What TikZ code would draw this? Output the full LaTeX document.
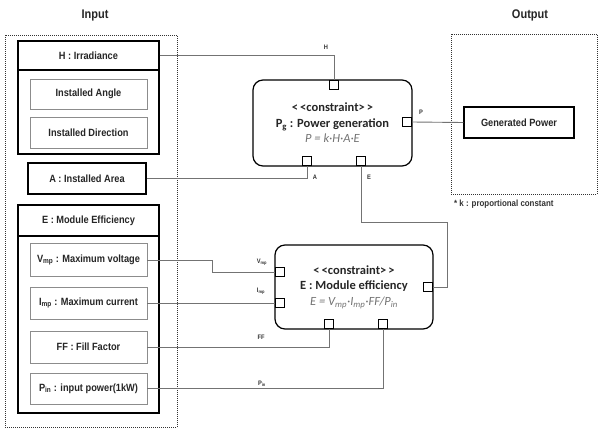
\documentclass[tikz,border=0pt]{standalone}
\usepackage{fontspec}
\setmainfont{Liberation Sans}
\newfontfamily\nbfont[FakeStretch=0.88]{Liberation Sans Bold}
\newfontfamily\calfont{Carlito Bold}
\newfontfamily\calitfont{Carlito Italic}
\begin{document}
\begin{tikzpicture}[x=1pt,y=-1pt,
  grp/.style={draw=black, line width=1.3pt, inner sep=0pt},
  hdr/.style={draw=black, line width=1.3pt, inner sep=0pt, text=black!85, font=\nbfont\fontsize{10.5}{12}\selectfont},
  inbox/.style={draw=black!45, line width=0.8pt, inner sep=0pt, text=black!85, font=\nbfont\fontsize{10.5}{12}\selectfont},
  cbox/.style={draw=black, rounded corners=10pt, line width=1.2pt, align=center, inner sep=0pt, text=black!85, font=\calfont\fontsize{12.5}{15.5}\selectfont},
  port/.style={draw=black, fill=white, line width=1.2pt, minimum size=9pt, inner sep=0pt},
  conn/.style={draw=black!55, line width=0.9pt},
  plab/.style={font=\nbfont\fontsize{6.5}{7}\selectfont, text=black!80, inner sep=0pt},
  title/.style={font=\nbfont\fontsize{12.5}{15}\selectfont, text=black!85, inner sep=0pt},
  dotbox/.style={draw=black!80, line width=1pt, dash pattern=on 1pt off 1pt}]
\useasboundingbox (0,0) rectangle (601,434);
\fill[white] (0,0) rectangle (601,434);

% titles
\node[title] (tin) at (95,15) {Input};
\node[title] (tout) at (530,15) {Output};

% dotted frames
\node[dotbox, minimum width=172pt, minimum height=392pt, inner sep=0pt] (inframe) at (91,231) {};
\node[dotbox, minimum width=146pt, minimum height=160pt, inner sep=0pt] (outframe) at (524,114) {};

% H group
\node[grp, minimum width=141pt, minimum height=113pt] (hgrp) at (88.5,97.5) {};
\node[hdr, minimum width=141pt, minimum height=29pt] (hhead) at (88.5,55.5) {H : Irradiance};
\node[inbox, minimum width=117pt, minimum height=30pt] (ang) at (88.5,94) {Installed Angle};
\node[inbox, minimum width=117pt, minimum height=31pt] (dir) at (88.5,132.5) {Installed Direction};

% A
\node[hdr, minimum width=118pt, minimum height=31pt] (area) at (87,178.5) {A : Installed Area};

% E group
\node[grp, minimum width=141pt, minimum height=208pt] (egrp) at (88.5,309) {};
\node[hdr, minimum width=141pt, minimum height=31pt] (ehead) at (88.5,220.5) {E : Module Efficiency};
\node[inbox, minimum width=117pt, minimum height=33pt] (vmp) at (88.5,260) {V\textsubscript{mp} : Maximum voltage};
\node[inbox, minimum width=117pt, minimum height=32pt] (imp) at (88.5,303) {I\textsubscript{mp} : Maximum current};
\node[inbox, minimum width=117pt, minimum height=32pt] (ff) at (88.5,347) {FF : Fill Factor};
\node[inbox, minimum width=117pt, minimum height=31pt] (pin) at (88.5,388.5) {P\textsubscript{in} : input power(1kW)};

% constraint blocks
\node[cbox, minimum width=159pt, minimum height=86pt] (pbox) at (332.5,123)
  {<\,<constraint>\,>\\P\textsubscript{g} : Power generation\\{\color{black!55}\calitfont P = k·H·A·E}};
\node[cbox, minimum width=158pt, minimum height=84pt] (ebox) at (354,287)
  {<\,<constraint>\,>\\E : Module efficiency\\{\color{black!55}\calitfont E = V\textsubscript{mp}·I\textsubscript{mp}·FF/P\textsubscript{in}}};

% output
\node[hdr, minimum width=110pt, minimum height=31pt] (gp) at (519,122.5) {Generated Power};
\node[font=\nbfont\fontsize{9}{10}\selectfont, text=black!80, anchor=west, inner sep=0pt] (note) at (454,204) {* k : proportional constant};

% ports
\node[port, anchor=north] (pT) at (334,80) {};
\node[port, anchor=east] (pR) at (412,122) {};
\node[port, anchor=south] (pA) at (307,166) {};
\node[port, anchor=south] (pE) at (361,166) {};
\node[port, anchor=east] (eR) at (433,287) {};
\node[port, anchor=west] (eV) at (275,272) {};
\node[port, anchor=west] (eI) at (275,303) {};
\node[port, anchor=south] (eF) at (329,329) {};
\node[port, anchor=south] (eP) at (383,329) {};

% connectors
\coordinate (cE) at (447,222);
\coordinate (cV) at (212,260);
\draw[conn] (hhead.east) -| (pT.north);
\draw[conn] (area.east) -| (pA.south);
\draw[conn] (pE.south) |- (cE) |- (eR.east);
\draw[conn] (pR.east) -- (gp.west);
\draw[conn] (vmp.east) -- (cV) |- (eV.west);
\draw[conn] (imp.east) -- (eI.west);
\draw[conn] (ff.east) -| (eF.south);
\draw[conn] (pin.east) -| (eP.south);

% port labels
\node[plab] (lH) at (326,47) {H};
\node[plab] (lA) at (315,177) {A};
\node[plab] (lE) at (369,177) {E};
\node[plab] (lP) at (421,112) {P};
\node[plab] (lV) at (262,262) {V\textsubscript{mp}};
\node[plab] (lI) at (261,291) {I\textsubscript{mp}};
\node[plab] (lF) at (261,337) {FF};
\node[plab] (lPin) at (262,384) {P\textsubscript{in}};
\end{tikzpicture}
\end{document}
